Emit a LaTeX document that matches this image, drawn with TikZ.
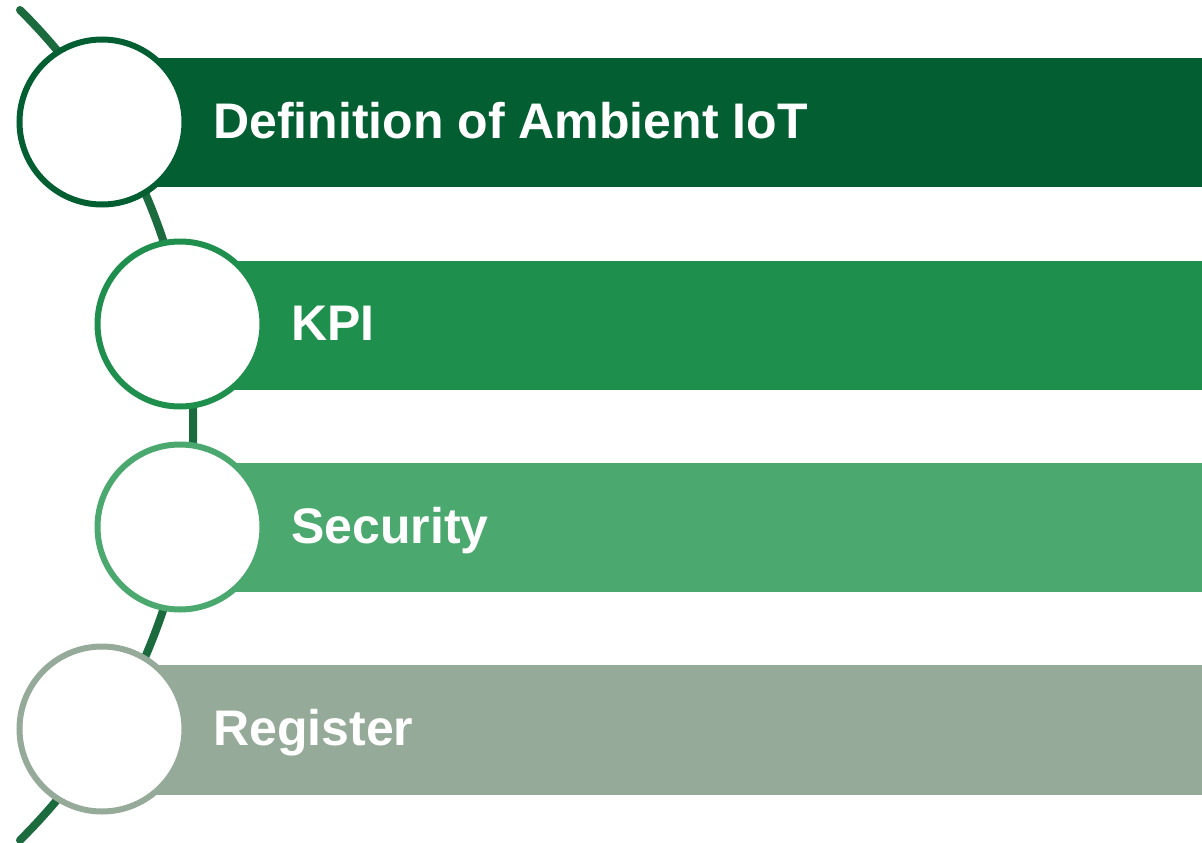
\documentclass[tikz,border=0pt]{standalone}
\usepackage{fontspec}
\setmainfont{Liberation Sans}
\definecolor{darkgreen}{HTML}{035E32}
\definecolor{midgreen}{HTML}{1F8F4E}
\definecolor{lightgreen}{HTML}{4BA86E}
\definecolor{greygreen}{HTML}{95AA99}
\definecolor{arcgreen}{HTML}{1C6B3E}
\begin{document}
\begin{tikzpicture}[x=1pt,y=-1pt,
  ring/.style={circle, draw, line width=6pt, fill=white, minimum size=165pt, inner sep=0pt},
  label/.style={text=white, anchor=base west, inner sep=0pt, font=\bfseries\fontsize{50}{60}\selectfont}]
  \useasboundingbox (0,0) rectangle (1202,843);
  \draw[arcgreen, line width=8pt, line cap=round] (20,10) arc[start angle=-45.3, end angle=45.3, radius=584];
  \fill[darkgreen] (102,58) rectangle (1202,187);
  \fill[midgreen] (180,261) rectangle (1202,390);
  \fill[lightgreen] (180,463) rectangle (1202,592);
  \fill[greygreen] (102,665) rectangle (1202,795);
  \node[ring, draw=darkgreen] (def) at (102,122) {};
  \node[ring, draw=midgreen] (kpi) at (180,324) {};
  \node[ring, draw=lightgreen] (sec) at (180,527) {};
  \node[ring, draw=greygreen] (reg) at (102,729) {};
  \node[label] (deftext) at (213,138) {Definition of Ambient IoT};
  \node[label] (kpitext) at (291,340) {KPI};
  \node[label] (sectext) at (291,543) {Security};
  \node[label] (regtext) at (213,745) {Register};
\end{tikzpicture}
\end{document}
